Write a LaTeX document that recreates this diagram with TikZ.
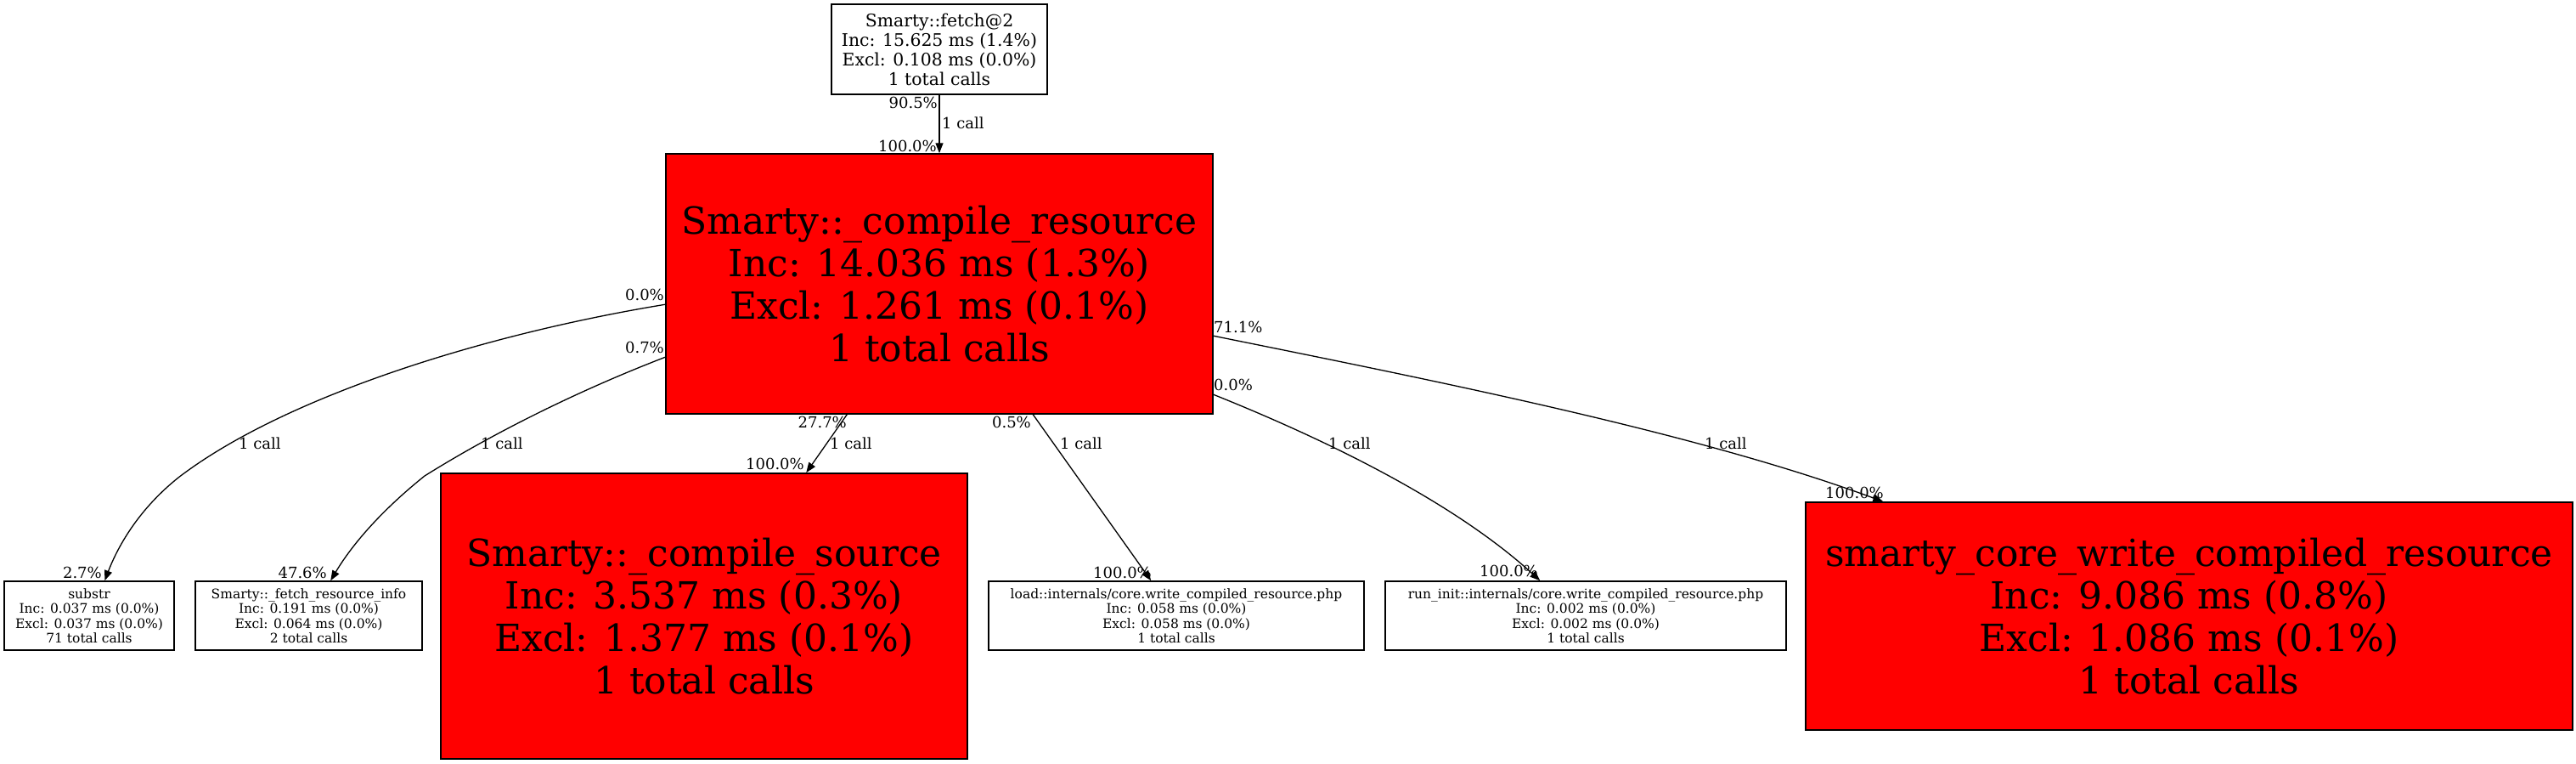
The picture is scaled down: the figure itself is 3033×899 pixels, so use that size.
\documentclass[tikz,border=0pt]{standalone}
\usepackage{fontspec}
\setmainfont{DejaVu Serif}
\usetikzlibrary{arrows.meta,calc}
\begin{document}
\begin{tikzpicture}[x=1pt,y=-1pt,
  fn/.style={draw=black, line width=1.5pt, inner sep=0pt, align=center, anchor=center},
  hot/.style={fn, fill=red},
  bigtxt/.style={font=\fontsize{44}{50}\selectfont},
  toptxt/.style={font=\fontsize{20.4}{23}\selectfont},
  smalltxt/.style={font=\fontsize{15.5}{17.5}\selectfont},
  lbl/.style={font=\fontsize{18}{20}\selectfont, inner sep=0pt},
  call/.style={line width=1.3pt, -{Triangle[length=12pt,width=9pt]}}]
\useasboundingbox (0,0) rectangle (3033,899);
% nodes
\node[fn, toptxt, minimum width=254pt, minimum height=106pt] (fetch) at (1106,58)
  {Smarty::fetch@2\\Inc: 15.625 ms (1.4\%)\\Excl: 0.108 ms (0.0\%)\\1 total calls};
\node[hot, bigtxt, minimum width=644pt, minimum height=306pt] (compres) at (1106,334)
  {Smarty::\_compile\_resource\\Inc: 14.036 ms (1.3\%)\\Excl: 1.261 ms (0.1\%)\\1 total calls};
\node[fn, smalltxt, minimum width=200pt, minimum height=81pt] (substr) at (105,724.5)
  {substr\\Inc: 0.037 ms (0.0\%)\\Excl: 0.037 ms (0.0\%)\\71 total calls};
\node[fn, smalltxt, minimum width=267pt, minimum height=81pt] (fri) at (363.5,724.5)
  {Smarty::\_fetch\_resource\_info\\Inc: 0.191 ms (0.0\%)\\Excl: 0.064 ms (0.0\%)\\2 total calls};
\node[hot, bigtxt, minimum width=620pt, minimum height=336pt] (csrc) at (829,725)
  {Smarty::\_compile\_source\\Inc: 3.537 ms (0.3\%)\\Excl: 1.377 ms (0.1\%)\\1 total calls};
\node[fn, smalltxt, minimum width=442pt, minimum height=81pt] (load) at (1385,724.5)
  {load::internals/core.write\_compiled\_resource.php\\Inc: 0.058 ms (0.0\%)\\Excl: 0.058 ms (0.0\%)\\1 total calls};
\node[fn, smalltxt, minimum width=472pt, minimum height=81pt] (runinit) at (1867,724.5)
  {run\_init::internals/core.write\_compiled\_resource.php\\Inc: 0.002 ms (0.0\%)\\Excl: 0.002 ms (0.0\%)\\1 total calls};
\node[hot, bigtxt, minimum width=903pt, minimum height=268pt] (scw) at (2577.5,725)
  {smarty\_core\_write\_compiled\_resource\\Inc: 9.086 ms (0.8\%)\\Excl: 1.086 ms (0.1\%)\\1 total calls};
% edges
\draw[call] (fetch.south) -- (compres.north);
\draw[call] ($(compres.north west)+(0,178)$) .. controls (560,395) and (330,470) .. (210,562)
  .. controls (165,598) and (140,640) .. ($(substr.north west)+(119,0)$);
\draw[call] ($(compres.north west)+(0,240)$) .. controls (680,460) and (580,510) .. (500,560)
  .. controls (450,600) and (415,640) .. ($(fri.north west)+(160,0)$);
\draw[call] ($(compres.south west)+(214,0)$) -- ($(csrc.north west)+(431,0)$);
\draw[call] ($(compres.south west)+(433,0)$) -- ($(load.north west)+(192,0)$);
\draw[call] ($(compres.north east)+(0,284)$) .. controls (1530,505) and (1700,580) .. ($(runinit.north west)+(183,0)$);
\draw[call] ($(compres.north east)+(0,215)$) .. controls (1700,450) and (2000,510) .. ($(scw.north west)+(92,0)$);
% labels
\node[lbl, anchor=east] (l1a) at (1104,121) {90.5\%};
\node[lbl, anchor=west] (l1b) at (1109,145) {1 call};
\node[lbl, anchor=east] (l1c) at (1103,172) {100.0\%};
\node[lbl, anchor=east] (l2a) at (782,347) {0.0\%};
\node[lbl, anchor=west] (l2b) at (281,522) {1 call};
\node[lbl, anchor=east] (l2c) at (120,674) {2.7\%};
\node[lbl, anchor=east] (l3a) at (782,409) {0.7\%};
\node[lbl, anchor=west] (l3b) at (566,522) {1 call};
\node[lbl, anchor=east] (l3c) at (385,674) {47.6\%};
\node[lbl, anchor=east] (l4a) at (997,497) {27.7\%};
\node[lbl, anchor=west] (l4b) at (977,522) {1 call};
\node[lbl, anchor=east] (l4c) at (947,546) {100.0\%};
\node[lbl, anchor=east] (l5a) at (1214,497) {0.5\%};
\node[lbl, anchor=west] (l5b) at (1248,522) {1 call};
\node[lbl, anchor=east] (l5c) at (1356,674) {100.0\%};
\node[lbl, anchor=west] (l6a) at (1429,453) {0.0\%};
\node[lbl, anchor=west] (l6b) at (1564,522) {1 call};
\node[lbl, anchor=east] (l6c) at (1811,672) {100.0\%};
\node[lbl, anchor=west] (l7a) at (1429,385) {71.1\%};
\node[lbl, anchor=west] (l7b) at (2007,522) {1 call};
\node[lbl, anchor=east] (l7c) at (2218,580) {100.0\%};
\end{tikzpicture}
\end{document}
